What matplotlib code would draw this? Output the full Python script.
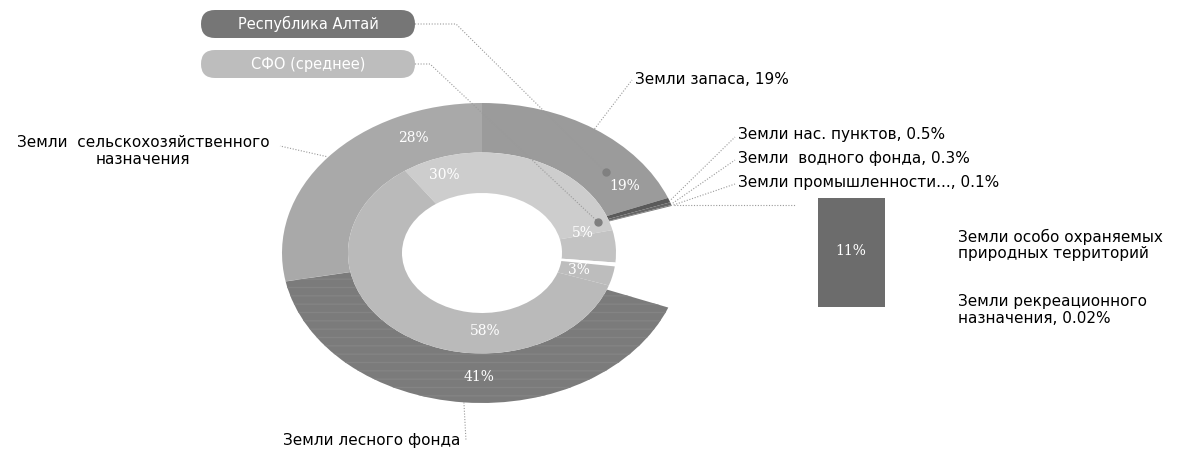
import numpy as np
import matplotlib
matplotlib.use("Agg")
import matplotlib.pyplot as plt
from matplotlib.patches import Rectangle, FancyBboxPatch

# data: Республика Алтай (outer ring), clockwise from the top
altai_labels = ["Земли запаса", "Земли нас. пунктов", "Земли водного фонда",
                "Земли промышленности", "Земли ООПТ", "Земли лесного фонда",
                "Земли рекреационного назначения", "Земли сельскохозяйственного назначения"]
altai_values = [19, 0.5, 0.3, 0.1, 11, 41, 0.02, 28]
altai_colors = ["#9b9b9b", "#5a5a5a", "#666666", "#777777", "none", "#7b7b7b", "#7b7b7b", "#a9a9a9"]
altai_pct = ["19%", "", "", "", "", "41%", "", "28%"]

# data: СФО (среднее) (inner ring), clockwise
sfo_labels = ["сельхоз", "запаса", "прочие", "ООПТ", "лесной фонд"]
sfo_values = [30, 5, 0.6, 3, 58]
sfo_colors = ["#cdcdcd", "#c3c3c3", "#ffffff", "#bdbdbd", "#bababa"]
sfo_pct = ["30%", "5%", "", "3%", "58%"]

W, H = 1189, 449
CX, CY, RX, RY = 482, 253, 200, 150   # ellipse centre / radii in pixels
R_MID = 0.67
R_HOLE = 0.40

fig = plt.figure(figsize=(W / 100, H / 100), dpi=100)
ax = fig.add_axes([(CX - RX) / W, 1 - (CY + RY) / H, 2 * RX / W, 2 * RY / H])

wedges_out, _ = ax.pie(altai_values, radius=1.0, startangle=90, counterclock=False,
                       colors=altai_colors, wedgeprops=dict(width=1 - R_MID, linewidth=0))
wedges_out[5].set_hatch("--")
wedges_out[5].set_edgecolor("#848484")
wedges_in, _ = ax.pie(sfo_values, radius=R_MID, startangle=125, counterclock=False,
                      colors=sfo_colors, wedgeprops=dict(width=R_MID - R_HOLE, linewidth=0))
ax.set_aspect("auto")
ax.set_xlim(-1, 1)
ax.set_ylim(-1, 1)
ax.axis("off")


def angles(values, start):
    tot = sum(values)
    a = [start]
    for v in values:
        a.append(a[-1] - v / tot * 360)
    return a


def ring_px(r, theta):
    t = np.radians(theta)
    return CX + RX * r * np.cos(t), CY - RY * r * np.sin(t)


a_out = angles(altai_values, 90)
mid_out = [(a_out[i] + a_out[i + 1]) / 2 for i in range(len(altai_values))]

# overlay in pixel coords
ov = fig.add_axes([0, 0, 1, 1], facecolor="none")
ov.set_xlim(0, W)
ov.set_ylim(H, 0)
ov.axis("off")

serif = "DejaVu Serif"
# percent labels (positions picked to follow the reference)
pct_pos_out = {0: (0.84, 32), 5: (0.83, -91), 7: (0.84, 114)}
for i, (r, th) in pct_pos_out.items():
    x, y = ring_px(r, th)
    ov.text(x, y, altai_pct[i], color="white", fontsize=10, family=serif, ha="center", va="center")
pct_pos_in = {0: (0.55, 110), 1: (0.52, 15), 3: (0.50, -13), 4: (0.52, -88)}
for i, (r, th) in pct_pos_in.items():
    x, y = ring_px(r, th)
    ov.text(x, y, sfo_pct[i], color="white", fontsize=10, family=serif, ha="center", va="center")

lk = dict(color="#9a9a9a", lw=0.8, ls=(0, (1, 1.5)))
fs = 11

# legend pills
pills = [("Республика Алтай", "#767676", 24), ("СФО (среднее)", "#bdbdbd", 64)]
for name, col, yc in pills:
    p = FancyBboxPatch((201, yc - 14), 214, 28, boxstyle="round,pad=0,rounding_size=14",
                       fc=col, ec="none")
    ov.add_patch(p)
    ov.text(308, yc, name, color="white", fontsize=10.5, ha="center", va="center")

# leader from legend pills to rings
dx, dy = ring_px(0.82, 41)
ov.plot([415, 456, dx], [24, 24, dy], **lk)
ov.plot([dx], [dy], "o", color="#808080", ms=5)
dx, dy = ring_px(0.616, 19.6)
ov.plot([415, 430, dx], [64, 64, dy], **lk)
ov.plot([dx], [dy], "o", color="#808080", ms=5)

# category labels
x0, y0 = ring_px(1.0, mid_out[0])
ov.plot([x0, 632], [y0, 80], **lk)
ov.text(635, 79, "Земли запаса, 19%", fontsize=fs, va="center")

side = [(1, "Земли нас. пунктов, 0.5%", 135), (2, "Земли  водного фонда, 0.3%", 158),
        (3, "Земли промышленности..., 0.1%", 182)]
for i, txt, yy in side:
    xs, ys = ring_px(1.01, mid_out[i])
    ov.plot([xs, 735], [ys, yy + 2], **lk)
    ov.text(738, yy, txt, fontsize=fs, va="center")
xs, ys = ring_px(1.01, mid_out[3])
ov.plot([xs, 795], [ys, ys], **lk)

x0, y0 = ring_px(1.01, mid_out[7])
ov.plot([x0, 280], [y0, 146], **lk)
ov.text(143, 151, "Земли  сельскохозяйственного\nназначения", fontsize=fs,
        ha="center", va="center", multialignment="center", linespacing=1.1)

x0, y0 = ring_px(1.0, mid_out[5])
ov.plot([x0, 466], [y0, 441], **lk)
ov.text(460, 440, "Земли лесного фонда", fontsize=fs, ha="right", va="center")

# ООПТ shown separately
ov.add_patch(Rectangle((818, 198), 67, 109, fc="#6c6c6c", ec="none"))
ov.text(851, 251, f"{altai_values[4]:g}%", color="white", fontsize=10, family=serif,
        ha="center", va="center")
ov.text(958, 245, "Земли особо охраняемых\nприродных территорий", fontsize=fs, va="center",
        linespacing=1.1)
ov.text(958, 310, "Земли рекреационного\nназначения, 0.02%", fontsize=fs, va="center",
        linespacing=1.1)

fig.savefig("out.png", dpi=100)
